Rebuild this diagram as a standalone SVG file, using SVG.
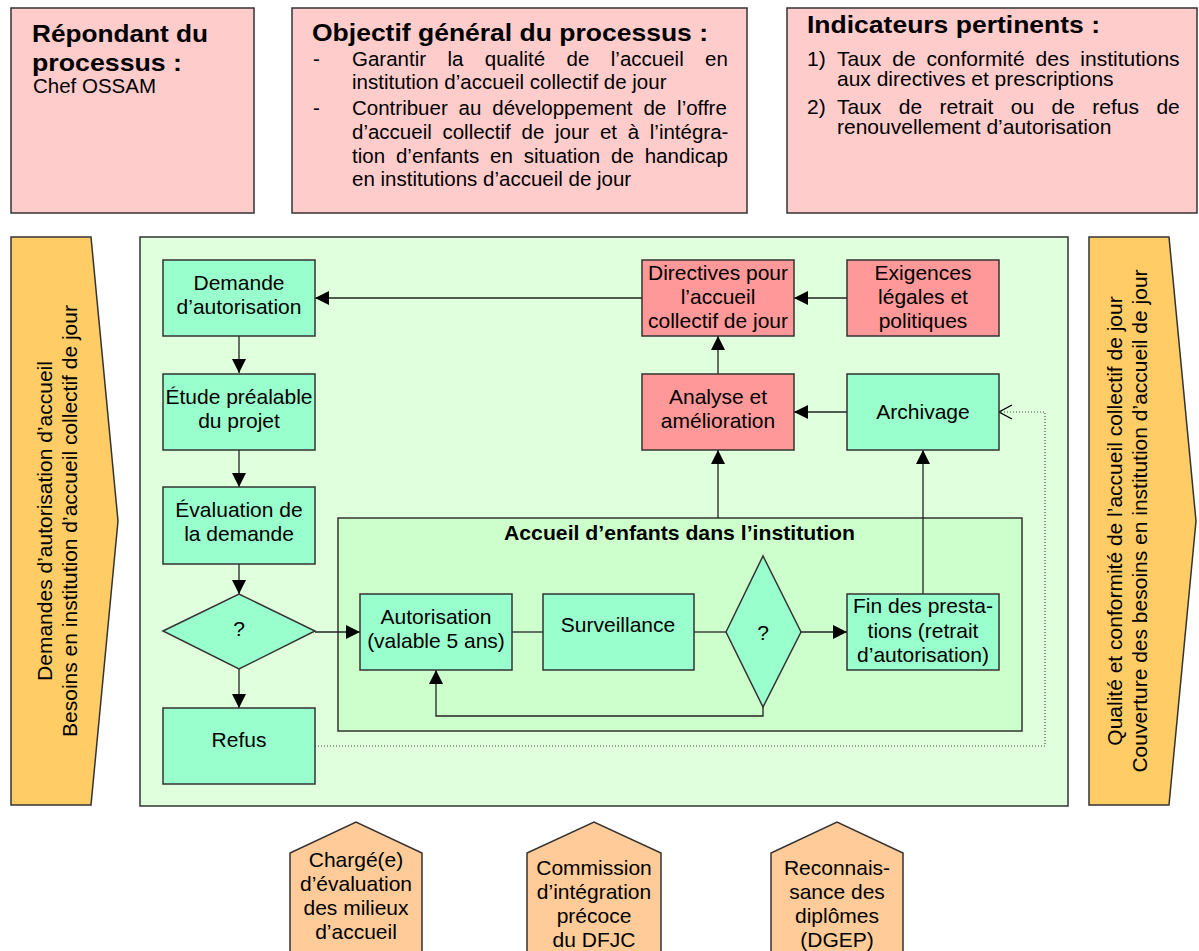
<svg xmlns="http://www.w3.org/2000/svg" width="1199" height="951" viewBox="0 0 1199 951">
<defs>
<style>
text{font-family:"Liberation Sans",Arial,sans-serif;fill:#000}
.hd{font-weight:bold;font-size:24px}
.bd{font-size:20.5px}
.b3{font-size:21px}
.nd{font-size:21px;text-anchor:middle}
.bx{stroke:#333;stroke-width:1.5}
.info{fill:#FFCCCC}
.g{fill:#99FFCC}
.r{fill:#FF9999}
.io{fill:#FFCC66}
.rs{fill:#FFCC99}
.ln{fill:none;stroke:#222;stroke-width:1.3}
.dt{fill:none;stroke:#444;stroke-width:1.2;stroke-dasharray:1 2}
</style>
<marker id="ah" markerUnits="userSpaceOnUse" markerWidth="15" markerHeight="15" refX="14" refY="7" orient="auto" overflow="visible"><path d="M0,0L14,7L0,14z" fill="#000"/></marker>
<marker id="oa" markerUnits="userSpaceOnUse" markerWidth="16" markerHeight="16" refX="14" refY="8" orient="auto" overflow="visible"><path d="M1,1L14,8L1,15" fill="none" stroke="#000" stroke-width="1.4"/></marker>
</defs>
<rect width="1199" height="951" fill="#fff"/>

<g id="n-repondant">
<rect class="bx info" x="11" y="8" width="243" height="205"/>
<text class="hd" x="32" y="42" textLength="176" lengthAdjust="spacingAndGlyphs">Répondant du</text>
<text class="hd" x="32" y="71" textLength="150" lengthAdjust="spacingAndGlyphs">processus :</text>
<text class="bd" x="33" y="93">Chef OSSAM</text>
</g>

<g id="n-objectif">
<rect class="bx info" x="292" y="8" width="455" height="205"/>
<text class="hd" x="312" y="41" textLength="396" lengthAdjust="spacingAndGlyphs">Objectif général du processus :</text>
<text class="bd" x="313" y="66">-</text>
<text class="bd" x="352" y="66" word-spacing="15.7">Garantir la qualité de l’accueil en</text>
<text class="bd" x="352" y="89">institution d’accueil collectif de jour</text>
<text class="bd" x="313" y="115">-</text>
<text class="bd" x="352" y="115" word-spacing="5.2">Contribuer au développement de l’offre</text>
<text class="bd" x="352" y="139" word-spacing="5">d’accueil collectif de jour et à l’intégra-</text>
<text class="bd" x="352" y="163" word-spacing="5.2">tion d’enfants en situation de handicap</text>
<text class="bd" x="352" y="186">en institutions d’accueil de jour</text>
</g>

<g id="n-indicateurs">
<rect class="bx info" x="787" y="8" width="410" height="205"/>
<text class="hd" x="807" y="33" textLength="293" lengthAdjust="spacingAndGlyphs">Indicateurs pertinents :</text>
<text class="b3" x="807" y="66">1)</text>
<text class="b3" x="837" y="66" word-spacing="5.1">Taux de conformité des institutions</text>
<text class="b3" x="837" y="86">aux directives et prescriptions</text>
<text class="b3" x="807" y="114">2)</text>
<text class="b3" x="837" y="114" word-spacing="11.6">Taux de retrait ou de refus de</text>
<text class="b3" x="837" y="134">renouvellement d’autorisation</text>
</g>

<g id="n-input">
<polygon class="bx io" points="11,237 91,237 118,521 91,805 11,805"/>
<text class="nd" transform="translate(52,521) rotate(-90)">Demandes d’autorisation d’accueil</text>
<text class="nd" transform="translate(77,521) rotate(-90)">Besoins en institution d’accueil collectif de jour</text>
</g>

<g id="n-output">
<polygon class="bx io" points="1089,237 1169,237 1196,521 1169,805 1089,805"/>
<text class="nd" transform="translate(1122,521) rotate(-90)">Qualité et conformité de l’accueil collectif de jour</text>
<text class="nd" transform="translate(1147,521) rotate(-90)">Couverture des besoins en institution d’accueil de jour</text>
</g>

<g id="n-process">
<rect class="bx" fill="#E0FFDD" x="140" y="237" width="928" height="569"/>
</g>

<g id="n-accueil">
<rect class="bx" fill="#CCFFCC" x="338" y="518" width="684" height="213"/>
<text x="504" y="540" font-weight="bold" font-size="20.5" textLength="351" lengthAdjust="spacingAndGlyphs">Accueil d’enfants dans l’institution</text>
</g>

<g id="connectors">
<path class="ln" marker-end="url(#ah)" d="M239,336V373"/>
<path class="ln" marker-end="url(#ah)" d="M239,450V487"/>
<path class="ln" marker-end="url(#ah)" d="M239,564V594"/>
<path class="ln" marker-end="url(#ah)" d="M239,669V708"/>
<path class="ln" marker-end="url(#ah)" d="M315,632H360"/>
<path class="ln" d="M512,632H543"/>
<path class="ln" d="M694,632H726"/>
<path class="ln" marker-end="url(#ah)" d="M801,632H847"/>
<path class="ln" marker-end="url(#ah)" d="M763,707V716H436V670"/>
<path class="ln" marker-end="url(#ah)" d="M923,594V450"/>
<path class="ln" marker-end="url(#ah)" d="M718,518V450"/>
<path class="ln" marker-end="url(#ah)" d="M847,412H794"/>
<path class="ln" marker-end="url(#ah)" d="M847,298H794"/>
<path class="ln" marker-end="url(#ah)" d="M718,374V336"/>
<path class="ln" marker-end="url(#ah)" d="M642,298H315"/>
<path class="dt" marker-end="url(#oa)" d="M315,746H1045V412H999"/>
</g>

<g id="n-demande">
<rect class="bx g" x="163" y="260" width="152" height="76"/>
<text class="nd" x="239" y="290">Demande</text>
<text class="nd" x="239" y="314">d’autorisation</text>
</g>
<g id="n-etude">
<rect class="bx g" x="163" y="374" width="152" height="76"/>
<text class="nd" x="239" y="404">Étude préalable</text>
<text class="nd" x="239" y="428">du projet</text>
</g>
<g id="n-evaluation">
<rect class="bx g" x="163" y="487" width="152" height="77"/>
<text class="nd" x="239" y="517">Évaluation de</text>
<text class="nd" x="239" y="541">la demande</text>
</g>
<g id="n-dec1">
<polygon class="bx g" points="163,631 239,594 315,631 239,669"/>
<text class="nd" x="239" y="636" font-size="20">?</text>
</g>
<g id="n-refus">
<rect class="bx g" x="163" y="708" width="152" height="76"/>
<text class="nd" x="239" y="747">Refus</text>
</g>
<g id="n-autorisation">
<rect class="bx g" x="360" y="594" width="152" height="76"/>
<text class="nd" x="436" y="624">Autorisation</text>
<text class="nd" x="436" y="648">(valable 5 ans)</text>
</g>
<g id="n-surveillance">
<rect class="bx g" x="543" y="594" width="151" height="76"/>
<text class="nd" x="618" y="632">Surveillance</text>
</g>
<g id="n-dec2">
<polygon class="bx g" points="726,632 763,556 801,632 763,707"/>
<text class="nd" x="763" y="640" font-size="20">?</text>
</g>
<g id="n-fin">
<rect class="bx g" x="847" y="594" width="152" height="76"/>
<text class="nd" x="923" y="613">Fin des presta-</text>
<text class="nd" x="923" y="638">tions (retrait</text>
<text class="nd" x="923" y="662">d’autorisation)</text>
</g>
<g id="n-archivage">
<rect class="bx g" x="847" y="374" width="152" height="76"/>
<text class="nd" x="923" y="419">Archivage</text>
</g>
<g id="n-analyse">
<rect class="bx r" x="642" y="374" width="152" height="76"/>
<text class="nd" x="718" y="404">Analyse et</text>
<text class="nd" x="718" y="428">amélioration</text>
</g>
<g id="n-directives">
<rect class="bx r" x="642" y="260" width="152" height="76"/>
<text class="nd" x="718" y="280">Directives pour</text>
<text class="nd" x="718" y="304">l’accueil</text>
<text class="nd" x="718" y="328">collectif de jour</text>
</g>
<g id="n-exigences">
<rect class="bx r" x="847" y="260" width="152" height="76"/>
<text class="nd" x="923" y="280">Exigences</text>
<text class="nd" x="923" y="304">légales et</text>
<text class="nd" x="923" y="328">politiques</text>
</g>

<g id="n-r1">
<path class="bx rs" d="M290,960V853L356,822L422,853V960Z"/>
<text class="nd" x="356" y="867">Chargé(e)</text>
<text class="nd" x="356" y="891">d’évaluation</text>
<text class="nd" x="356" y="915">des milieux</text>
<text class="nd" x="356" y="939">d’accueil</text>
</g>
<g id="n-r2">
<path class="bx rs" d="M527,960V853L594,822L661,853V960Z"/>
<text class="nd" x="594" y="875">Commission</text>
<text class="nd" x="594" y="899">d’intégration</text>
<text class="nd" x="594" y="923">précoce</text>
<text class="nd" x="594" y="947">du DFJC</text>
</g>
<g id="n-r3">
<path class="bx rs" d="M771,960V853L837,822L903,853V960Z"/>
<text class="nd" x="837" y="875">Reconnais-</text>
<text class="nd" x="837" y="899">sance des</text>
<text class="nd" x="837" y="923">diplômes</text>
<text class="nd" x="837" y="947">(DGEP)</text>
</g>
</svg>
